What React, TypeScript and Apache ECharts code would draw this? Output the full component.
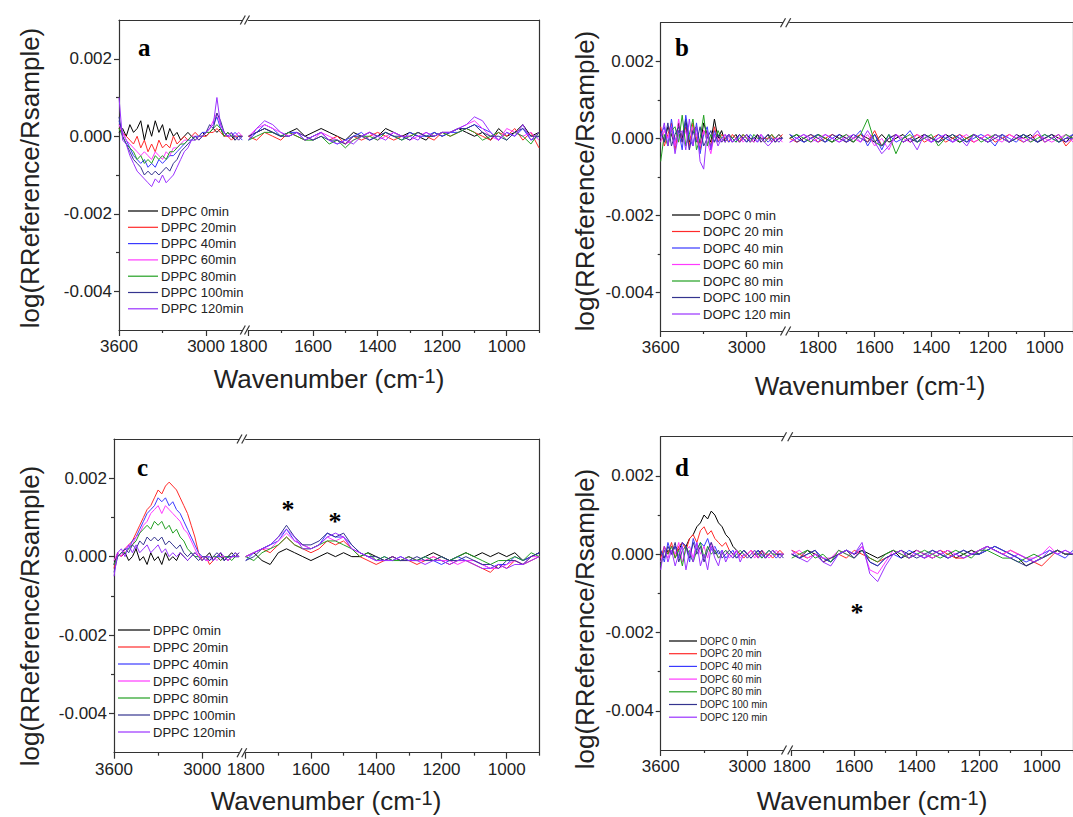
import React, { useEffect, useRef } from "react";
import * as echarts from "echarts";

// ---------- data (values in units of 1e-4) ----------
const SCALE = 1e-4;

const LEFT_X = [3600, 3575, 3550, 3525, 3500, 3475, 3450, 3425, 3400, 3375, 3350, 3325, 3300, 3275, 3250, 3225, 3200, 3175, 3150, 3125, 3100, 3075, 3050, 3025, 3000, 2975, 2950, 2925, 2900, 2875, 2850, 2825, 2800, 2775, 2750];
const RIGHT_X = [1800, 1775, 1750, 1725, 1700, 1675, 1650, 1625, 1600, 1575, 1550, 1525, 1500, 1475, 1450, 1425, 1400, 1375, 1350, 1325, 1300, 1275, 1250, 1225, 1200, 1175, 1150, 1125, 1100, 1075, 1050, 1025, 1000, 975, 950, 925, 900];
const RIGHT_X_B = [1900, 1875, 1850, 1825, 1800, 1775, 1750, 1725, 1700, 1675, 1650, 1625, 1600, 1575, 1550, 1525, 1500, 1475, 1450, 1425, 1400, 1375, 1350, 1325, 1300, 1275, 1250, 1225, 1200, 1175, 1150, 1125, 1100, 1075, 1050, 1025, 1000, 975, 950, 925, 900];

const LEFT_TICKS = [3600, 3000];
const LEFT_MINOR = [3300];
const RIGHT_TICKS = [1800, 1600, 1400, 1200, 1000];
const RIGHT_MINOR = [1700, 1500, 1300, 1100, 900];
const Y_TICKS = [-0.004, -0.002, 0, 0.002];
const Y_MINOR = [-0.003, -0.001, 0.001];

const DPPC_NAMES = ["DPPC 0min", "DPPC 20min", "DPPC 40min", "DPPC 60min", "DPPC 80min", "DPPC 100min", "DPPC 120min"];
const DOPC_NAMES = ["DOPC 0 min", "DOPC 20 min", "DOPC 40 min", "DOPC 60 min", "DOPC 80 min", "DOPC 100 min", "DOPC 120 min"];
const COLORS = ["#000000", "#ff2a2a", "#3a3aff", "#ff3aff", "#22a022", "#34348f", "#9a32ff"];

// order of rows: 0, 20, 40, 60, 80, 100, 120 min
const A_LEFT = [
  [1, 2, 0, 3, 1, 2, 4, -1, 3, 0, 4, 1, 3, -1, 2, 0, 1, -1, 0, 1, 0, -1, 0, 1, 0, 1, 2, 1, 2, 0, 1, 0, -1, 0, 0],
  [2, 1, 0, -1, -2, 0, -3, -1, -4, -2, -4, -1, -3, -2, -3, 0, -2, -1, 0, -1, 0, 1, 0, 0, 0, 1, 1, 2, 1, 0, 0, -1, 0, 0, 0],
  [4, 1, -1, -3, -5, -6, -7, -6, -8, -7, -8, -6, -7, -6, -5, -5, -4, -3, -2, -1, -1, 0, 0, 1, 1, 2, 3, 5, 2, 1, 0, 0, 1, 0, -1],
  [3, 1, -1, -2, -3, -4, -5, -4, -5, -6, -4, -5, -6, -4, -5, -3, -3, -2, -1, -1, 0, 0, -1, 0, 1, 2, 4, 6, 3, 1, 0, 0, 0, 1, 0],
  [2, 0, -2, -3, -4, -6, -5, -7, -6, -7, -5, -6, -5, -6, -4, -4, -3, -2, -2, -1, 0, -1, 0, 0, 1, 1, 2, 3, 2, 0, 1, 0, 0, -1, 0],
  [5, 0, -2, -4, -6, -7, -8, -10, -9, -10, -9, -10, -9, -8, -9, -7, -6, -4, -3, -2, -1, 0, -1, 0, 1, 3, 2, 6, 4, 1, 0, 1, -1, 0, 0],
  [10, -1, -2, -5, -7, -9, -10, -11, -12, -13, -11, -12, -10, -12, -11, -10, -8, -6, -4, -3, -1, -1, 0, 0, 1, 2, 3, 10, 3, 1, 0, 1, 0, -1, 0],
];
const A_RIGHT = [
  [0, 1, 2, 1, 0, 1, 2, 0, 1, 2, 1, 0, -1, 1, 0, 1, 0, 2, 1, 0, 1, 0, -1, 1, 0, 1, 2, 1, 0, 1, -1, 2, 0, 1, 3, 0, 1],
  [0, -1, 1, 0, -1, 1, 0, -1, 0, 1, -1, 0, -2, 0, -1, 0, 1, 0, -1, 0, 0, 1, 0, -1, 1, 0, 1, 2, 1, 0, -1, 1, 0, 2, -1, 1, -3],
  [-1, 1, 3, 2, 0, 1, 1, -1, 0, 1, -1, -2, -1, 0, 1, -1, 0, 1, 0, -1, 1, 0, 0, 1, 0, 1, 1, 2, 3, 2, 1, -1, 1, 0, 2, -1, 0],
  [0, 2, 3, 2, 1, 0, 1, 0, -1, 1, 0, -1, -2, -1, 0, 1, -1, 0, 1, 0, -1, 0, 1, 0, 1, 1, 2, 3, 4, 2, 0, -1, 2, 1, 0, 1, -1],
  [-1, 0, 1, 1, 0, 1, 0, -1, -1, 0, -2, -1, -3, -1, 0, 0, -1, 1, 0, -1, 0, 1, 0, 0, 1, 0, 1, 2, 1, -1, 0, 1, -1, 1, 0, -2, 1],
  [0, 1, 2, 1, 0, 0, 1, 0, -1, 0, -1, -1, -2, 0, 0, -1, 0, 1, 0, 0, -1, 1, 0, 0, 1, 1, 2, 2, 3, 1, 0, 0, -1, 1, 2, 0, 0],
  [-1, 2, 4, 3, 1, 0, 1, -1, 0, 1, -1, -2, -1, -2, 0, 1, 0, -1, 1, 0, 0, -1, 1, 0, 1, 1, 2, 3, 5, 4, 1, -1, 1, 0, 3, -1, 1],
];
const B_LEFT = [
  [2, -1, 3, 1, -2, 4, 0, 5, -1, 2, 3, -2, 4, 1, -1, 5, 0, 2, -1, 1, 0, 1, -1, 0, 1, 0, -1, 1, 0, 0, 1, -1, 0, 1, 0],
  [3, -2, 1, 4, -3, 2, -1, 3, -2, 4, 0, -3, 2, 1, -2, 3, -1, 1, 0, -1, 1, 0, -1, 1, 0, -1, 0, 1, -1, 0, 0, 1, -1, 0, 1],
  [1, 3, -2, 5, -1, 2, -3, 6, 0, -2, 4, -4, 1, 3, -3, 2, -1, 0, 1, -1, 0, -1, 1, 0, -1, 1, 0, -1, 1, 0, -1, 0, -1, 0, 0],
  [-1, 2, 0, 3, -2, 5, -1, 2, -3, 3, 1, -2, 2, -1, -4, 1, 0, -1, 1, 0, -1, 0, 1, -1, 0, 0, -1, 0, 1, -1, 0, -1, 0, 0, -1],
  [-6, 1, -2, 2, 3, -1, 6, -2, 1, 5, -3, 0, 6, -2, 1, -1, 2, 0, -1, 1, 0, -1, 0, 1, 0, -1, 1, 0, 0, -1, 0, 1, 0, -1, 0],
  [2, -1, 4, -2, 1, 3, -1, 4, -3, 2, -1, 3, -2, 0, 2, -1, 1, -1, 0, 1, -1, 0, 1, 0, -1, 0, 0, 1, -1, 0, 1, 0, -1, 0, 0],
  [0, 4, -2, 3, -4, 1, 2, -3, 5, -2, 3, -6, -8, 2, -3, 1, -2, 0, -1, 1, -1, 0, -1, 0, 1, -1, 0, -1, 0, -1, -2, -1, 0, -1, 0],
];
const B_RIGHT = [
  [0, 1, -1, 0, 1, 0, -1, 1, 0, -1, 1, 0, -1, 1, -1, 0, 1, -1, 0, 1, 0, -1, 1, 0, -1, 0, 1, 0, -1, 1, 0, -1, 1, 0, 1, -1, 0, 1, 0, -1, 1],
  [0, -1, 0, 1, -1, 0, 1, 0, -1, 0, 1, -1, 2, -2, 0, 1, -1, 0, 1, -1, 0, 1, -1, 0, 1, 0, -1, 0, 1, -1, 0, 1, 0, -1, 0, 1, -1, 0, 1, -2, 0],
  [1, 0, -1, 0, 1, -1, 0, 1, -1, 0, 2, -2, 1, -3, 1, -1, 0, 2, -1, 0, -1, 1, 0, -1, 1, -1, 0, 1, 0, -2, 1, 0, -1, 1, 0, -1, 1, 0, -1, 0, 1],
  [-1, 0, 1, -1, 0, 1, 0, -1, 1, 0, -1, 1, -2, 0, -3, 1, 0, -1, 1, 0, -1, 0, 1, -1, 0, 1, -1, 0, 1, 0, -1, 1, 0, 0, -1, 1, 0, -1, 0, 1, -1],
  [0, 1, 0, -1, 1, 0, -1, 0, 1, -1, 1, 5, -1, -2, 1, -4, 0, 1, -1, 0, 1, -2, 0, 1, -1, 0, 1, -1, 0, 1, 0, -1, 0, 1, -1, 0, 1, 0, -1, 1, 0],
  [1, -1, 0, 1, 0, -1, 1, 0, -1, 1, 0, -1, 1, -2, 0, 1, -1, 0, -1, 1, 0, -1, 0, 1, 0, -1, 1, 0, -1, 0, 1, -1, 0, 1, 0, -1, 0, 1, -1, 0, 0],
  [-1, 0, 1, 0, -1, 1, 0, -1, 0, 1, -1, 2, -1, -4, -2, 1, -1, 0, -3, 1, -1, 0, 1, -1, 0, -2, 1, 0, -1, 1, 0, -1, 1, -1, 0, 2, -1, 0, 1, -1, 0],
];
const C_LEFT = [
  [-2, 1, 0, 1, -1, 0, 2, -1, 0, -2, 1, -1, 0, -2, 1, -1, 0, -1, 1, 0, -1, 0, 1, 0, -1, 0, 1, -1, 0, 1, -1, 0, 1, 0, 0],
  [-3, 1, 0, 2, 3, 4, 6, 8, 10, 12, 13, 15, 17, 16, 18, 19, 18, 17, 15, 13, 11, 8, 5, 1, -1, 0, -2, -1, 0, -1, 0, -1, 0, 1, 0],
  [-2, 0, 1, 2, 2, 4, 5, 7, 9, 11, 12, 13, 15, 14, 15, 13, 14, 12, 11, 9, 7, 5, 3, 1, 0, -1, 0, -1, 0, 0, -1, 0, 0, 1, 0],
  [-1, 1, 0, 2, 3, 3, 5, 6, 8, 9, 11, 12, 13, 11, 13, 12, 11, 10, 9, 7, 6, 4, 2, 0, 0, -1, -1, 0, -1, 0, 0, -1, 0, 0, 1],
  [-2, 0, 1, 1, 2, 3, 4, 6, 7, 8, 7, 9, 8, 9, 7, 8, 6, 7, 5, 4, 2, 1, 0, 0, -1, 0, -1, 0, 0, -1, 0, 0, -1, 0, 0],
  [-4, 0, 1, 2, 1, 3, 2, 4, 3, 5, 4, 5, 4, 5, 3, 4, 3, 2, 3, 1, 0, 1, 0, -1, 0, 0, -1, 0, 1, 0, -1, 0, 0, 0, 1],
  [-5, 1, 2, 0, 3, 1, 3, 1, 2, 3, 1, 2, 3, 1, 2, 0, 1, 0, 1, 0, -1, 0, 1, 0, -1, 0, 0, -1, 0, 1, 0, -1, 0, 0, 0],
];
const C_RIGHT = [
  [0, 1, -1, -2, 1, 2, 1, 0, -1, 0, 1, 0, 1, 0, 0, 1, 0, -1, 0, -1, 0, -1, 0, 1, 0, -1, 0, 1, 0, 1, 0, 1, 0, 1, -1, 0, 1],
  [0, 1, 2, 1, 3, 5, 3, 2, 1, 2, 4, 3, 4, 2, 0, -1, -2, -1, 0, -1, -1, -2, -1, 0, -1, -2, -1, -1, -2, -3, -4, -2, -3, -1, -2, -1, 0],
  [-1, 1, 2, 3, 4, 7, 4, 3, 2, 3, 6, 5, 5, 3, 1, 0, -1, 0, -1, 0, -1, -1, 0, -1, -2, -1, 0, -1, -1, -2, -3, -2, -2, 0, -1, 0, 1],
  [0, 1, 2, 2, 4, 6, 4, 3, 2, 3, 5, 4, 5, 2, 1, 0, -1, -1, 0, -1, 0, -1, -1, 0, -1, -1, -2, -1, -1, -2, -3, -3, -2, -1, -2, 0, 0],
  [0, -1, 1, 2, 3, 5, 3, 2, 2, 3, 4, 4, 3, 2, 0, 1, -1, 0, -1, -1, 0, -1, 0, -1, 0, -1, 0, 1, 0, -1, -2, -1, -1, 0, -1, 1, 0],
  [-1, 0, 2, 3, 5, 8, 5, 3, 3, 4, 6, 5, 6, 3, 1, 0, 0, -1, 0, -1, -1, 0, -1, -1, 0, -1, -1, 0, -1, -2, -2, -3, -1, -1, -2, 0, 1],
  [0, 1, 2, 3, 5, 7, 5, 2, 2, 3, 5, 6, 5, 2, 1, 0, -1, -1, -1, 0, -1, -1, -2, -1, -1, -2, -1, -1, -2, -3, -3, -2, -3, -2, -2, -1, 0],
];
const D_LEFT = [
  [0, -1, 1, 0, 2, 1, 3, 2, 4, 5, 7, 8, 10, 9, 11, 10, 8, 7, 5, 4, 2, 1, 0, 1, 0, -1, 0, 1, 0, -1, 0, 1, 0, 0, 0],
  [-1, 2, 0, 3, -1, 2, 3, 1, 4, 5, 3, 6, 7, 5, 6, 4, 3, 2, 3, 1, 0, 1, 0, -1, 0, 1, 0, -1, 1, 0, 0, -1, 0, 1, 0],
  [1, -2, 3, 0, 2, -1, 3, 2, -2, 4, 1, 3, 2, 4, 1, 2, 0, 1, -1, 0, 1, -1, 0, 1, 0, -1, 0, 1, -1, 0, 1, 0, -1, 0, 0],
  [-2, 1, -1, 2, 0, 3, -2, 1, 2, -1, 3, 0, 2, -1, 3, 1, -1, 0, 1, -1, 0, 1, -1, 0, 0, 1, -1, 0, 1, 0, -1, 0, 1, 0, 0],
  [-3, 1, 0, 2, -1, 1, -3, 2, 0, -2, 1, 3, -1, 2, 0, 1, -1, 0, 1, 0, -1, 0, 1, 0, -1, 0, 1, 0, -1, 0, 1, 0, 0, -1, 0],
  [1, -1, 2, 0, 3, -2, 1, 2, -1, 3, 0, 2, -2, 1, 3, 0, 1, -1, 0, 1, 0, -1, 0, 1, 0, -1, 0, 0, 1, -1, 0, 1, 0, 0, -1],
  [-4, 2, -2, 1, -3, 0, 2, -4, 1, -2, 3, -3, 0, -4, 2, -1, -3, 1, -2, 0, -1, 1, -2, 0, -1, 0, 1, -1, 0, -1, 0, 1, 0, -1, 0],
];
const D_RIGHT = [
  [0, -1, 1, 0, -1, -2, 0, 1, 0, 1, 0, -1, 0, 1, -1, 0, 1, 0, -1, 0, 1, -1, 0, 1, 0, 1, 2, 1, 0, -1, -3, -2, -1, 0, 1, 0, 0],
  [1, 0, -1, 0, -2, -1, 0, -1, 1, 0, -1, -2, -1, 0, 1, -1, 0, -1, 0, 1, 0, -1, -1, 0, 1, 2, 1, 0, 1, 0, -1, -2, -3, -1, 1, 0, 0],
  [0, -1, 0, 1, -1, -2, 0, 1, 0, 2, -2, -3, -1, 0, -1, 1, 0, -1, 1, 0, -1, 0, 1, 0, 0, 1, 2, 1, 0, -1, -2, -1, 0, 1, 0, -1, 1],
  [0, 1, -1, 0, -1, -1, 1, 0, -1, 2, -4, -5, -2, 1, 0, -1, 1, 0, -1, 0, 1, 0, -1, 0, 1, 2, 1, 0, 1, 0, -1, -1, 0, 2, 0, 1, 0],
  [-1, 0, 1, -1, 0, -2, 1, 0, -1, 1, -1, -2, 0, 1, 0, -1, 0, 1, 0, -1, 0, 1, 0, -1, 1, 1, 0, -1, -1, -2, -1, 0, -1, 0, 1, 0, 0],
  [0, -1, 0, 1, -2, -1, 0, 1, -1, 1, -2, -3, -1, 0, 1, 0, -1, 0, 1, 0, -1, 0, 1, 0, 0, 2, 1, 0, -1, -2, -3, -2, -1, 0, 1, 0, 0],
  [1, -1, -2, 0, -2, -3, 0, 1, 0, 3, -5, -7, -3, 0, 1, -1, 0, -1, 0, 1, -1, 0, -1, 0, 1, 2, 1, 0, -1, 0, -1, -2, -1, 1, 0, 1, 0],
];

// ---------- layout ----------
const FONT = "'Liberation Sans', Arial, sans-serif";
const SERIF = "'Liberation Serif', 'Times New Roman', serif";
const AXIS_COLOR = "#333333";
const TEXT_COLOR = "#222222";

const PANELS = [
  { letter: "a", left: 119, top: 20, height: 310, leftEnd: 242.3, rightStart: 248.5, rightEnd: 539, rMax: 1800, RX: RIGHT_X, L: A_LEFT, R: A_RIGHT, names: DPPC_NAMES,
    lx: 138, ly: 47, leg: { x1: 128, x2: 158, tx: 161, y0: 211, step: 16.3, fs: 13 }, yt: { x: 30, y: 178 }, xt: { x: 329, y: 379 } },
  { letter: "b", left: 660.7, top: 22.7, height: 308.3, leftEnd: 782.5, rightStart: 789.7, rightEnd: 1078.2, rMax: 1900, RX: RIGHT_X_B, L: B_LEFT, R: B_RIGHT, names: DOPC_NAMES,
    lx: 675, ly: 47, leg: { x1: 672, x2: 700, tx: 703, y0: 215, step: 16.5, fs: 13 }, yt: { x: 585, y: 181 }, xt: { x: 870, y: 386 } },
  { letter: "c", left: 114, top: 439, height: 313.7, leftEnd: 239, rightStart: 245.7, rightEnd: 539.3, rMax: 1800, RX: RIGHT_X, L: C_LEFT, R: C_RIGHT, names: DPPC_NAMES,
    lx: 137, ly: 467, leg: { x1: 118, x2: 150, tx: 153, y0: 630, step: 17, fs: 13 }, yt: { x: 30, y: 616 }, xt: { x: 326, y: 801 } },
  { letter: "d", left: 660.7, top: 436.7, height: 313.3, leftEnd: 783.5, rightStart: 791.7, rightEnd: 1084.2, rMax: 1800, RX: RIGHT_X, L: D_LEFT, R: D_RIGHT, names: DOPC_NAMES,
    lx: 675, ly: 467, leg: { x1: 669, x2: 697, tx: 700, y0: 641, step: 12.7, fs: 10 }, yt: { x: 585, y: 619 }, xt: { x: 872, y: 801 } },
];

const STARS = [
  { x: 288, y: 509 },
  { x: 335, y: 521 },
  { x: 857, y: 612 },
];

function majorX(gridIndex: number, min: number, max: number, ticks: number[]) {
  return {
    type: "value", gridIndex, min, max, inverse: true, position: "bottom",
    axisLine: { show: true, onZero: false, lineStyle: { color: AXIS_COLOR, width: 1.2 } },
    axisTick: { show: true, inside: false, length: 6, customValues: ticks, lineStyle: { color: AXIS_COLOR, width: 1.2 } },
    axisLabel: { show: true, customValues: ticks, margin: 8, color: TEXT_COLOR, fontSize: 17, fontFamily: FONT, formatter: (v: number) => String(v) },
    splitLine: { show: false },
  };
}
function minorX(gridIndex: number, min: number, max: number, ticks: number[]) {
  return {
    type: "value", gridIndex, min, max, inverse: true, position: "bottom",
    axisLine: { show: false, onZero: false },
    axisTick: { show: true, inside: false, length: 3, customValues: ticks, lineStyle: { color: AXIS_COLOR, width: 1.2 } },
    axisLabel: { show: false },
    splitLine: { show: false },
  };
}
function topX(gridIndex: number, min: number, max: number) {
  return {
    type: "value", gridIndex, min, max, inverse: true, position: "top",
    axisLine: { show: true, onZero: false, lineStyle: { color: AXIS_COLOR, width: 1.2 } },
    axisTick: { show: false }, axisLabel: { show: false }, splitLine: { show: false },
  };
}
function majorY(gridIndex: number) {
  return {
    type: "value", gridIndex, min: -0.005, max: 0.003, position: "left",
    axisLine: { show: true, onZero: false, lineStyle: { color: AXIS_COLOR, width: 1.2 } },
    axisTick: { show: true, inside: false, length: 5, customValues: Y_TICKS, lineStyle: { color: AXIS_COLOR, width: 1.2 } },
    axisLabel: { show: true, customValues: Y_TICKS, margin: 7, color: TEXT_COLOR, fontSize: 17, fontFamily: FONT, formatter: (v: number) => v.toFixed(3) },
    splitLine: { show: false },
  };
}
function minorY(gridIndex: number) {
  return {
    type: "value", gridIndex, min: -0.005, max: 0.003, position: "left",
    axisLine: { show: false, onZero: false },
    axisTick: { show: true, inside: false, length: 3, customValues: Y_MINOR, lineStyle: { color: AXIS_COLOR, width: 1.2 } },
    axisLabel: { show: false }, splitLine: { show: false },
  };
}
function rightY(gridIndex: number) {
  return {
    type: "value", gridIndex, min: -0.005, max: 0.003, position: "right",
    axisLine: { show: true, onZero: false, lineStyle: { color: AXIS_COLOR, width: 1.2 } },
    axisTick: { show: false }, axisLabel: { show: false }, splitLine: { show: false },
  };
}

function buildOption() {
  const grid: any[] = [];
  const xAxis: any[] = [];
  const yAxis: any[] = [];
  const series: any[] = [];
  const elements: any[] = [];

  PANELS.forEach((p) => {
    const gL = grid.length;
    grid.push({ left: p.left, top: p.top, width: p.leftEnd - p.left, height: p.height, containLabel: false });
    const gR = grid.length;
    grid.push({ left: p.rightStart, top: p.top, width: p.rightEnd - p.rightStart, height: p.height, containLabel: false });

    const xL = xAxis.length;
    xAxis.push(majorX(gL, 2750, 3600, LEFT_TICKS));
    xAxis.push(minorX(gL, 2750, 3600, LEFT_MINOR));
    xAxis.push(topX(gL, 2750, 3600));
    const xR = xAxis.length;
    xAxis.push(majorX(gR, 900, p.rMax, RIGHT_TICKS));
    xAxis.push(minorX(gR, 900, p.rMax, RIGHT_MINOR));
    xAxis.push(topX(gR, 900, p.rMax));

    const yL = yAxis.length;
    yAxis.push(majorY(gL));
    yAxis.push(minorY(gL));
    const yR = yAxis.length;
    yAxis.push(rightY(gR));

    p.names.forEach((name, si) => {
      const common = {
        type: "line", name, showSymbol: false, symbol: "none", silent: true, z: 2 + si,
        lineStyle: { width: 1, color: COLORS[si] }, itemStyle: { color: COLORS[si] },
      };
      series.push({ ...common, xAxisIndex: xL, yAxisIndex: yL, data: LEFT_X.map((x, i) => [x, p.L[si][i] * SCALE]) });
      series.push({ ...common, xAxisIndex: xR, yAxisIndex: yR, data: p.RX.map((x, i) => [x, p.R[si][i] * SCALE]) });

      const ly = p.leg.y0 + si * p.leg.step;
      elements.push({ type: "line", silent: true, shape: { x1: p.leg.x1, y1: ly, x2: p.leg.x2, y2: ly }, style: { stroke: COLORS[si], lineWidth: 1.2 } });
      elements.push({ type: "text", silent: true, x: p.leg.tx, y: ly, style: { text: name, fill: TEXT_COLOR, fontSize: p.leg.fs, fontFamily: FONT, align: "left", verticalAlign: "middle" } });
    });

    // break marks
    const bottom = p.top + p.height;
    [p.top, bottom].forEach((yy) => {
      [p.leftEnd + 0.5, p.rightStart - 1.5].forEach((cx) => {
        elements.push({ type: "line", silent: true, shape: { x1: cx - 2.5, y1: yy + 4.5, x2: cx + 2.5, y2: yy - 4.5 }, style: { stroke: AXIS_COLOR, lineWidth: 1.2 } });
      });
    });

    // panel letter
    elements.push({ type: "text", silent: true, x: p.lx, y: p.ly, style: { text: p.letter, fill: "#000", fontSize: 25, fontWeight: "bold", fontFamily: SERIF, align: "left", verticalAlign: "middle" } });

    // y title
    elements.push({ type: "text", silent: true, x: p.yt.x, y: p.yt.y, rotation: Math.PI / 2,
      style: { text: "log(RReference/Rsample)", fill: TEXT_COLOR, fontSize: 26, fontFamily: FONT, align: "center", verticalAlign: "middle" } });

    // x title
    elements.push({ type: "text", silent: true, x: p.xt.x, y: p.xt.y,
      style: { text: "Wavenumber (cm{sup|-1})", fill: TEXT_COLOR, fontSize: 26, fontFamily: FONT, align: "center", verticalAlign: "middle",
        rich: { sup: { fontSize: 20, fontFamily: FONT, fill: TEXT_COLOR, verticalAlign: "top", lineHeight: 18 } } } });
  });

  STARS.forEach((s) => {
    elements.push({ type: "text", silent: true, x: s.x, y: s.y, style: { text: "*", fill: "#000", fontSize: 26, fontWeight: "bold", fontFamily: SERIF, align: "center", verticalAlign: "middle" } });
  });

  return {
    animation: false,
    backgroundColor: "#ffffff",
    grid, xAxis, yAxis, series,
    graphic: { elements },
  };
}

export default function App() {
  const ref = useRef<HTMLDivElement>(null);
  useEffect(() => {
    document.body.style.margin = "0";
    if (!ref.current) return;
    const chart = echarts.init(ref.current, undefined, { renderer: "svg" });
    chart.setOption(buildOption() as any);
    return () => chart.dispose();
  }, []);
  return <div ref={ref} style={{ width: 1073, height: 817 }} />;
}
